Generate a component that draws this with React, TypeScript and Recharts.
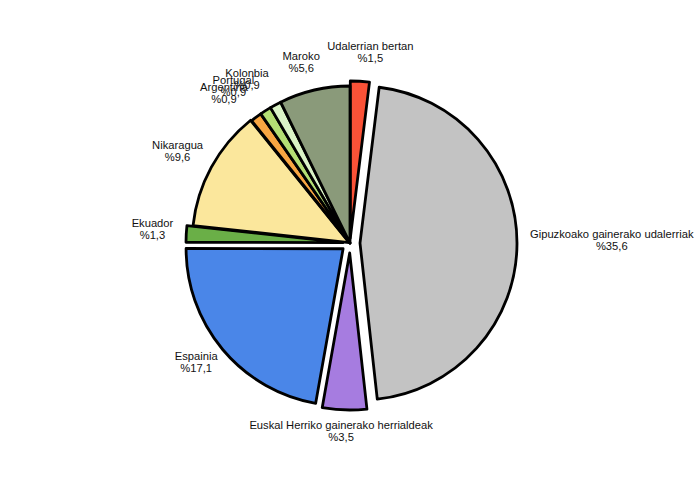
import { PieChart, Pie, Cell, Sector } from "recharts";

const categories = [
  "Udalerrian bertan",
  "Gipuzkoako gainerako udalerriak",
  "Euskal Herriko gainerako herrialdeak",
  "Espainia",
  "Ekuador",
  "Nikaragua",
  "Argentina",
  "Portugal",
  "Kolonbia",
  "Maroko",
];
const values = [1.5, 35.6, 3.5, 17.1, 1.3, 9.6, 0.9, 0.9, 0.9, 5.6];

const COLORS: Record<string, string> = {
  "Udalerrian bertan": "#FA5237",
  "Gipuzkoako gainerako udalerriak": "#C3C3C3",
  "Euskal Herriko gainerako herrialdeak": "#A67CE0",
  Espainia: "#4A86E8",
  Ekuador: "#6AAF47",
  Nikaragua: "#FBE79C",
  Argentina: "#F8A642",
  Portugal: "#B4DE74",
  Kolonbia: "#DAF3C6",
  Maroko: "#8A9A7A",
};

// how far each slice is pulled out of the pie
const EXPLODE: Record<string, number> = {
  "Udalerrian bertan": 5,
  "Gipuzkoako gainerako udalerriak": 10,
  "Euskal Herriko gainerako herrialdeak": 10,
  Espainia: 9,
  Ekuador: 7,
  Nikaragua: 1,
};

// small horizontal nudges for the crowded labels at the top
const LABEL_NUDGE: Record<string, number> = {
  "Udalerrian bertan": 7,
  Maroko: -6,
  Kolonbia: -12,
  Portugal: -14,
  Argentina: -10,
};

const data = categories.map((name, i) => ({ name, value: values[i] }));

const RAD = Math.PI / 180;
const FONT_SIZE = 11.2;
const FONT_FAMILY = "'Liberation Sans', Arial, sans-serif";

let ctx: CanvasRenderingContext2D | null = null;
function textWidth(s: string) {
  if (!ctx) ctx = document.createElement("canvas").getContext("2d");
  if (!ctx) return s.length * 5.6;
  ctx.font = `${FONT_SIZE}px ${FONT_FAMILY}`;
  return ctx.measureText(s).width;
}

function renderSlice(props: any) {
  const name = props.payload?.name ?? props.name;
  const d = EXPLODE[name] || 0;
  const dx = d * Math.cos(-props.midAngle * RAD);
  const dy = d * Math.sin(-props.midAngle * RAD);
  return (
    <Sector
      cx={props.cx + dx}
      cy={props.cy + dy}
      innerRadius={0}
      outerRadius={props.outerRadius}
      startAngle={props.startAngle}
      endAngle={props.endAngle}
      fill={props.fill}
      stroke="#000"
      strokeWidth={2.8}
      strokeLinejoin="round"
    />
  );
}

function renderLabel(props: any) {
  const { cx, cy, midAngle, outerRadius, value } = props;
  const name = props.payload?.name ?? props.name;
  const d = EXPLODE[name] || 0;
  const cos = Math.cos(-midAngle * RAD);
  const sin = Math.sin(-midAngle * RAD);
  const r = outerRadius + d + 13;
  const px = cx + r * cos;
  const py = cy + r * sin;
  const line2 = "%" + Number(value).toFixed(1).replace(".", ",");
  const w = Math.max(textWidth(name), textWidth(line2));
  const h = 24;
  const bx = px + (cos * w) / 2 + (LABEL_NUDGE[name] || 0);
  const by = py + (sin * h) / 2;
  return (
    <text
      textAnchor="middle"
      fill="#111"
      style={{ fontFamily: FONT_FAMILY, fontSize: FONT_SIZE }}
    >
      <tspan x={bx} y={by - 6}>
        {name}
      </tspan>
      <tspan x={bx} y={by + 6}>
        {line2}
      </tspan>
    </text>
  );
}

export default function App() {
  return (
    <div style={{ position: "absolute", left: 0, top: 0, background: "#fff" }}>
      <PieChart width={700} height={500}>
        <Pie
          data={data}
          dataKey="value"
          nameKey="name"
          cx={345}
          cy={238}
          outerRadius={157}
          startAngle={90}
          endAngle={-270}
          stroke="#000"
          strokeWidth={2.8}
          shape={renderSlice}
          label={renderLabel}
          labelLine={false}
          isAnimationActive={false}
        >
          {data.map((entry) => (
            <Cell key={entry.name} fill={COLORS[entry.name]} />
          ))}
        </Pie>
      </PieChart>
    </div>
  );
}
